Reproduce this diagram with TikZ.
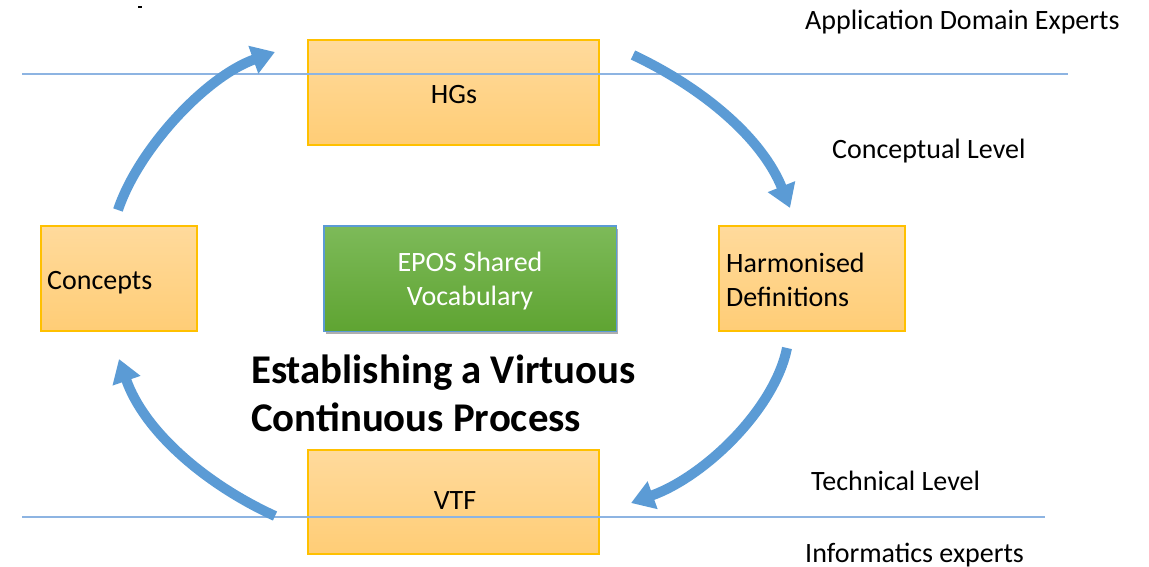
\documentclass[tikz,border=0pt]{standalone}
\usepackage{fontspec}
\setmainfont{Carlito}
\usetikzlibrary{arrows.meta,shadows}
\definecolor{arrowblue}{RGB}{91,155,213}
\definecolor{lineblue}{RGB}{141,180,226}
\definecolor{boxtop}{RGB}{255,218,156}
\definecolor{boxbot}{RGB}{255,205,118}
\definecolor{boxedge}{RGB}{255,192,0}
\definecolor{greentop}{RGB}{125,186,89}
\definecolor{greenbot}{RGB}{95,164,50}
\definecolor{greenedge}{RGB}{91,155,213}
\begin{document}
\begin{tikzpicture}[x=1pt,y=-1pt,
  lbl/.style={font=\fontsize{28}{34}\selectfont, inner sep=0pt},
  orangebox/.style={draw=boxedge, line width=1.2pt, top color=boxtop, bottom color=boxbot, inner sep=0pt},
  greenbox/.style={draw=greenedge, line width=0.8pt, top color=greentop, bottom color=greenbot, inner sep=0pt,
     minimum width=292pt, minimum height=105pt,
     drop shadow={shadow xshift=1.5pt, shadow yshift=-2.5pt, opacity=0.45, fill=black!70}},
  levellabel/.style={lbl, anchor=base west},
  flow/.style={draw=arrowblue, line width=10pt, -{Triangle[length=23pt, width=28pt]}},
  divider/.style={draw=lineblue, line width=1.8pt}
]
\useasboundingbox (0,0) rectangle (1149,567);

% boxes
\node[orangebox, minimum width=291pt, minimum height=105pt] (hgs) at (453.5,92.5) {};
\node[orangebox, minimum width=156pt, minimum height=105pt] (concepts) at (119,278.5) {};
\node[orangebox, minimum width=186pt, minimum height=105pt] (harm) at (812,278.5) {};
\node[orangebox, minimum width=291pt, minimum height=104pt] (vtf) at (453.5,502) {};
\node[greenbox] (epos) at (470,278.5) {};
\path[draw=greenedge, line width=0.8pt] (epos.north west) rectangle (epos.south east);

% box texts
\node[lbl, anchor=base] (hgsT) at (454,104) {HGs};
\node[lbl, anchor=base west] (conceptsT) at (47,289) {Concepts};
\node[lbl, anchor=base west, align=left] (harmT) at (726,306) {Harmonised\\Definitions};
\node[lbl, anchor=base] (vtfT) at (455,509) {VTF};
\node[lbl, anchor=base, align=center, text=white] (eposT) at (470,305) {EPOS Shared\\Vocabulary};

% title
\node[anchor=base west, align=left, inner sep=0pt, font=\bfseries\fontsize{40.8}{48}\selectfont] (title) at (251,431) {Establishing a Virtuous\\Continuous Process};

% divider lines
\coordinate (t1) at (22,74);
\coordinate (t2) at (1068,74);
\coordinate (b1) at (22,517);
\coordinate (b2) at (1045,517);
\draw[divider] (t1) -- (t2);
\draw[divider] (b1) -- (b2);

% level labels
\node[levellabel] (ade) at (805,30) {Application Domain Experts};
\node[levellabel] (cl) at (832,159) {Conceptual Level};
\node[levellabel] (tl) at (811,490) {Technical Level};
\node[levellabel] (ie) at (805,562) {Informatics experts};

% stray mark
\coordinate (m1) at (138,7);
\coordinate (m2) at (142,7);
\draw[line width=1.2pt] (m1) -- (m2);

% arrows
\coordinate (a1s) at (118,210);
\coordinate (a1e) at (275,52);
\coordinate (a2s) at (633,55);
\coordinate (a2e) at (790,208);
\coordinate (a3s) at (787,348);
\coordinate (a3e) at (631,503);
\coordinate (a4s) at (275,516);
\coordinate (a4e) at (119,359);
\draw[flow] (a1s) .. controls (138,150) and (205,77) .. (a1e);
\draw[flow] (a2s) .. controls (703,88) and (762,138) .. (a2e);
\draw[flow] (a3s) .. controls (775,408) and (706,476) .. (a3e);
\draw[flow] (a4s) .. controls (205,484) and (144,431) .. (a4e);
\end{tikzpicture}
\end{document}
